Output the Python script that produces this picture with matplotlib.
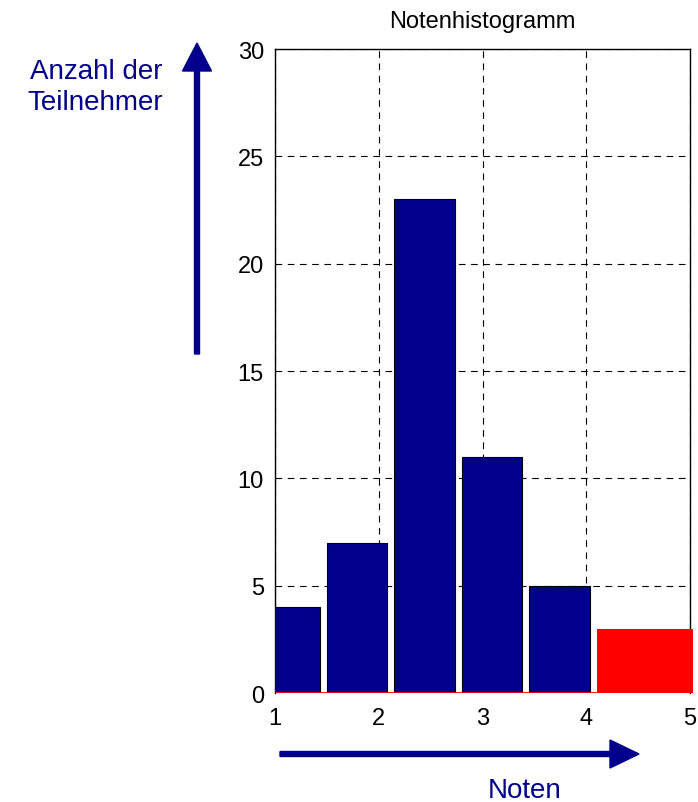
import matplotlib
matplotlib.use("Agg")
import matplotlib.pyplot as plt
from matplotlib.patches import FancyArrow

plt.rcParams['font.family'] = ['Liberation Sans', 'DejaVu Sans']

# Balken (Notenbereiche) und Anzahl der Teilnehmer
centers = [1.14, 1.79, 2.44, 3.09, 3.74]
counts = [4, 7, 23, 11, 5]
bar_width = 0.585
# durchgefallen (Note 5)
fail_left = 4.1
fail_right = 5.03
fail_count = 3

xticks = [1, 2, 3, 4, 5]
yticks = [0, 5, 10, 15, 20, 25, 30]

navy = '#00008c'

fig = plt.figure(figsize=(6.98, 8.03), dpi=100)
ax = fig.add_axes([0.394, 0.1357, 0.5946, 0.802])

ax.bar(centers, counts, width=bar_width, color=navy, edgecolor='black', linewidth=0.8, zorder=3)
ax.bar(fail_left, fail_count, width=fail_right - fail_left, align='edge', color='red',
       linewidth=0, zorder=3, clip_on=False)
ax.axhline(0, color='red', lw=2, zorder=4)

ax.set_xlim(1, 5)
ax.set_ylim(0, 30)
ax.set_xticks(xticks)
ax.set_yticks(yticks)
ax.tick_params(labelsize=17, length=0, pad=8)
ax.tick_params(axis='x', pad=10)
ax.grid(True, color='black', linestyle=(0, (6, 5)), linewidth=0.8, zorder=0)
ax.spines['bottom'].set_visible(False)
for s in ['top', 'left', 'right']:
    ax.spines[s].set_linewidth(1.0)

ax.set_title('Notenhistogramm', fontsize=17, pad=16)

# Pfeile
fig.add_artist(FancyArrow(1.97, 4.48, 0, 3.11, width=0.05, head_width=0.29, head_length=0.28,
                          length_includes_head=True, color=navy, transform=fig.dpi_scale_trans))
fig.add_artist(FancyArrow(2.80, 0.48, 3.59, 0, width=0.05, head_width=0.28, head_length=0.29,
                          length_includes_head=True, color=navy, transform=fig.dpi_scale_trans))

fig.text(1.63, 7.15, 'Anzahl der\nTeilnehmer', color=navy, fontsize=20, ha='right', va='center',
         linespacing=1.25, transform=fig.dpi_scale_trans)
fig.text(5.25, 0.12, 'Noten', color=navy, fontsize=20, ha='center', va='center',
         transform=fig.dpi_scale_trans)

fig.savefig('out.png', dpi=100)
